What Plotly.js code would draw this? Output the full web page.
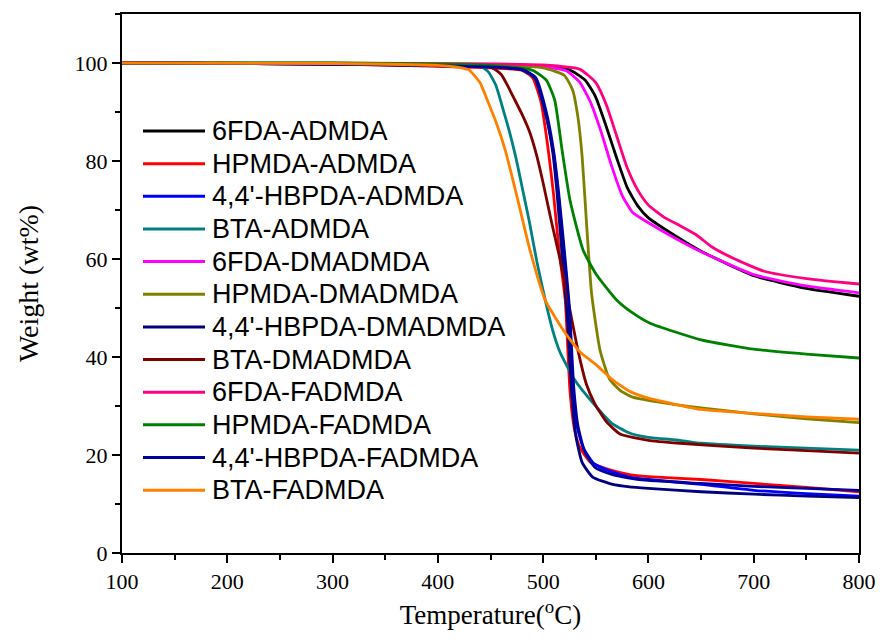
<!DOCTYPE html>
<html>
<head>
<meta charset="utf-8">
<script src="https://cdn.plot.ly/plotly-3.0.1.min.js"></script>
<style>html,body{margin:0;padding:0;background:#fff;}#chart{width:883px;height:644px;}</style>
</head>
<body>
<div id="chart"></div>
<script>
// Series names and colours
const names = ["6FDA-ADMDA","HPMDA-ADMDA","4,4'-HBPDA-ADMDA","BTA-ADMDA","6FDA-DMADMDA","HPMDA-DMADMDA","4,4'-HBPDA-DMADMDA","BTA-DMADMDA","6FDA-FADMDA","HPMDA-FADMDA","4,4'-HBPDA-FADMDA","BTA-FADMDA"];
const colors = ["#000000","#FF0000","#0000FF","#008080","#FF00FF","#808000","#000080","#800000","#FF0080","#008000","#0000A0","#FF8000"];

// Temperature (°C) and weight (wt%)
const t_6FDA_ADMDA = [100,300,450,500,525,540,550,560,570,580,590,600,625,650,700,750,800];
const w_6FDA_ADMDA = [100,99.8,99.6,99.2,98.6,96.5,93,87,80.5,74.5,70.8,68.4,64.8,61.6,56.6,54,52.4];

const t_HPMDA_ADMDA = [100,300,450,480,490,498,505,510,515,521,525.5,530,535,545,566,582,600,650,700,750,800];
const w_HPMDA_ADMDA = [100,99.8,99,98.5,97,92,82,73,62,51.6,33,25,21.5,18.5,16.8,16,15.6,15,14.2,13.4,12.5];

const t_HBPDA_ADMDA = [100,300,450,480,492,502,509.5,514,519,524,528,532,538,548,566,582,600,650,700,750,800];
const w_HBPDA_ADMDA = [100,99.8,99.3,98.7,97,90,82,74,63,51,34,26,21.5,18.3,16.5,15.5,15,14,12.8,12.1,11.6];

const t_BTA_ADMDA = [100,300,420,440,448,455,462,468,474,480,487,494,502,509,516,530,549,565,582,600,630,650,700,750,800];
const w_BTA_ADMDA = [100,99.9,99.6,99.4,98.2,95.5,90.5,86,80.8,74.7,67.5,59.5,51.6,45.5,41,35.3,30.2,26.5,24.5,23.6,23,22.4,21.8,21.4,21];

const t_6FDA_DMADMDA = [100,300,450,500,522,535,545,555,565,575,585,600,625,650,700,750,800];
const w_6FDA_DMADMDA = [100,99.9,99.7,99.2,98.4,96,92,86,79,73,69.5,67.4,64.3,61.5,56.8,54.5,53.1];

const t_HPMDA_DMADMDA = [100,300,450,500,520,528,533,537,541,546,554,563,573,585,604,650,700,750,800];
const w_HPMDA_DMADMDA = [100,100,99.7,99,97.5,94.5,89,81,68,53,41.4,35.5,33.2,31.8,31,29.6,28.4,27.4,26.6];

const t_HBPDA_DMADMDA = [100,300,450,480,492,502,509,513,518,523,527,531,537,547,566,582,600,650,700,750,800];
const w_HBPDA_DMADMDA = [100,99.8,99.2,98.6,97,90,82,74,61,48,33,24,18.5,15.5,14,13.5,13.2,12.5,12,11.6,11.3];

const t_BTA_DMADMDA = [100,300,430,452,460,466,473,480,487,494,500,508,516,523.6,533,541,549,560,573,600,630,700,750,800];
const w_BTA_DMADMDA = [100,99.9,99.5,99,97.7,95.5,92.5,89.5,86,81,75.5,67.5,60,51.6,41.4,34.5,30.5,26.8,24.3,23,22.4,21.4,20.9,20.4];

const t_6FDA_FADMDA = [100,300,450,500,535,550,560,570,580,590,600,615,630,645,660,680,710,750,800];
const w_6FDA_FADMDA = [100,99.9,99.8,99.6,98.7,96,91.5,85,78.5,74,71,68.5,66.8,65,62.5,60.2,57.5,56,54.9];

const t_HPMDA_FADMDA = [100,300,450,490,503,511,518,525.5,538,550,570,585,601.5,650,700,750,800];
const w_HPMDA_FADMDA = [100,100,99.5,98.5,96.5,92.4,82.2,72,61.8,57,51.6,49,46.9,43.5,41.6,40.6,39.8];

const t_HBPDA_FADMDA = [100,300,450,480,493,503,510,515,520,525,529,533,539,549,566,582,600,650,700,750,800];
const w_HBPDA_FADMDA = [100,99.8,99.2,98.7,97,90,82,73,62,50,34,26,21,17.5,16,15.3,14.8,14.2,13.6,13.2,12.8];

const t_BTA_FADMDA = [100,300,400,420,430,440,447,456,464,476,487.5,502,519,535,551,565,582,600,650,700,750,800];
const w_BTA_FADMDA = [100,99.9,99.5,99.1,98.5,96,92.4,87.5,82.2,72,61.8,51.6,45.5,41,38.3,35.5,33,31.6,29.3,28.5,27.8,27.3];

const xs = [t_6FDA_ADMDA,t_HPMDA_ADMDA,t_HBPDA_ADMDA,t_BTA_ADMDA,t_6FDA_DMADMDA,t_HPMDA_DMADMDA,t_HBPDA_DMADMDA,t_BTA_DMADMDA,t_6FDA_FADMDA,t_HPMDA_FADMDA,t_HBPDA_FADMDA,t_BTA_FADMDA];
const ys = [w_6FDA_ADMDA,w_HPMDA_ADMDA,w_HBPDA_ADMDA,w_BTA_ADMDA,w_6FDA_DMADMDA,w_HPMDA_DMADMDA,w_HBPDA_DMADMDA,w_BTA_DMADMDA,w_6FDA_FADMDA,w_HPMDA_FADMDA,w_HBPDA_FADMDA,w_BTA_FADMDA];

const traces = names.map((n,i)=>({
  x: xs[i], y: ys[i], name: n, type: 'scatter', mode: 'lines', showlegend: false,
  line: {color: colors[i], width: 2.8, shape: 'spline', smoothing: 0.5}
}));

// Legend drawn in paper coordinates (plot area: 737 x 539 px)
const PW = 737, PH = 539;
const legX0 = 21 / PW, legX1 = 83 / PW, legTX = 88 / PW;
const legTop = 117, legStep = 32.65;
const shapes = [], annotations = [];
names.forEach((n,i)=>{
  const yc = (PH - (legTop + i*legStep)) / PH;
  shapes.push({type: 'line', xref: 'paper', yref: 'paper', x0: legX0, x1: legX1, y0: yc, y1: yc,
               line: {color: colors[i], width: 3}});
  annotations.push({xref: 'paper', yref: 'paper', x: legTX, y: yc, xanchor: 'left', yanchor: 'middle',
                    text: n, showarrow: false,
                    font: {family: 'Liberation Sans, Arial, sans-serif', size: 27, color: '#000'}});
});

const serif = 'Liberation Serif, Times New Roman, serif';
const layout = {
  width: 883, height: 644,
  margin: {l: 122, r: 24, t: 14, b: 91},
  paper_bgcolor: '#fff', plot_bgcolor: '#fff',
  showlegend: false,
  shapes: shapes, annotations: annotations,
  xaxis: {
    range: [100, 800], tickvals: [100,200,300,400,500,600,700,800],
    ticks: 'outside', ticklen: 8, tickwidth: 2, tickcolor: '#000',
    minor: {dtick: 50, ticks: 'outside', ticklen: 5, tickwidth: 2, tickcolor: '#000'},
    showline: true, linecolor: '#000', linewidth: 2, mirror: true,
    showgrid: false, zeroline: false,
    tickfont: {family: serif, size: 22, color: '#000'},
    title: {text: 'Temperature(<sup>o</sup>C)', font: {family: serif, size: 27, color: '#000'}, standoff: 12}
  },
  yaxis: {
    range: [0, 110], tickvals: [0,20,40,60,80,100],
    ticks: 'outside', ticklen: 8, tickwidth: 2, tickcolor: '#000',
    minor: {dtick: 10, ticks: 'outside', ticklen: 5, tickwidth: 2, tickcolor: '#000'},
    showline: true, linecolor: '#000', linewidth: 2, mirror: true,
    showgrid: false, zeroline: false,
    tickfont: {family: serif, size: 22, color: '#000'},
    title: {text: 'Weight (wt%)', font: {family: serif, size: 28, color: '#000'}, standoff: 28}
  }
};
Plotly.newPlot('chart', traces, layout, {displayModeBar: false, staticPlot: true});
</script>
</body>
</html>
